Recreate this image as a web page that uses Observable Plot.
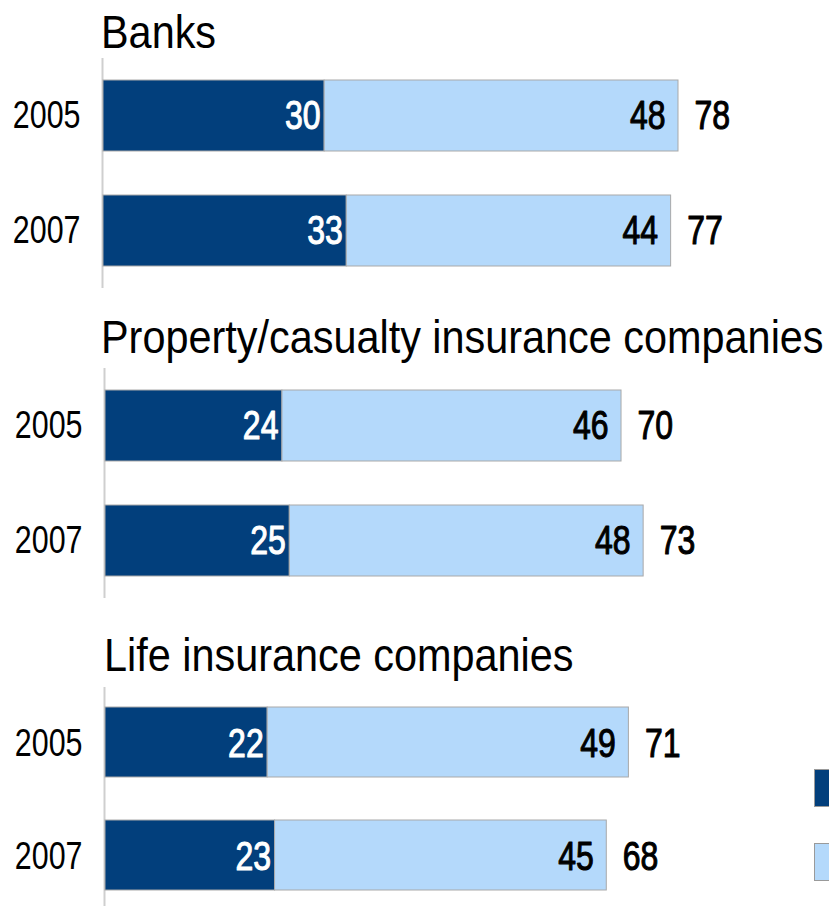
<!DOCTYPE html>
<html>
<head>
<meta charset="utf-8">
<script src="https://cdn.jsdelivr.net/npm/d3@7"></script>
<script src="https://cdn.jsdelivr.net/npm/@observablehq/plot@0.6"></script>
<style>
  html, body { margin: 0; padding: 0; background: #fff; overflow: hidden; }
  #root { position: relative; width: 829px; height: 906px; overflow: hidden;
    font-family: "Liberation Sans", Arial, sans-serif; }
  .title { position: absolute; font-size: 46px; line-height: 46px; color: #000; white-space: nowrap;
    transform: scaleX(0.9); transform-origin: 0 0; }
  .panel { position: absolute; left: 0; }
  .swatch { position: absolute; left: 814px; width: 30px; border: 1px solid #9a9a9a; box-sizing: border-box; }
</style>
</head>
<body>
<div id="root"></div>
<script>
// ---- data ----
const panelNames = ["Banks", "Property/casualty insurance companies", "Life insurance companies"];
const years = ["2005", "2007"];
const banksDark = [30, 33];
const banksLight = [48, 44];
const banksTotal = [78, 77];
const propertyDark = [24, 25];
const propertyLight = [46, 48];
const propertyTotal = [70, 73];
const lifeDark = [22, 23];
const lifeLight = [49, 45];
const lifeTotal = [71, 68];
const seriesNames = ["dark", "light"];

// ---- styles ----
const colors = {dark: "#023f7c", light: "#b4d9fb"};
const font = '"Liberation Sans", Arial, sans-serif';
const condenseFactor = 0.78;

const root = document.getElementById("root");

// narrow the glyphs of every svg text around its own anchor point (no condensed font is installed)
function condense(svg, s) {
  svg.querySelectorAll("text").forEach(el => {
    const t = el.getAttribute("transform") || "";
    const x = el.getAttribute("x");
    if (x != null && !isNaN(+x)) {
      el.removeAttribute("x");
      el.setAttribute("transform", `${t} translate(${x},0) scale(${s},1)`);
    } else {
      el.setAttribute("transform", `${t} scale(${s},1)`);
    }
  });
}

function makePanel({name, dark, light, total, top, left, titleTop, titleLeft, height, yRange, insetTop, insetBottom}) {
  const rows = years.flatMap((y, i) => [
    {year: y, series: seriesNames[0], value: dark[i]},
    {year: y, series: seriesNames[1], value: light[i]}
  ]);
  const totals = years.map((y, i) => ({year: y, total: total[i]}));

  const t = document.createElement("div");
  t.className = "title";
  t.style.top = titleTop + "px";
  t.style.left = titleLeft + "px";
  t.textContent = name;
  root.appendChild(t);

  const numStyle = {fontSize: 41, fontWeight: "normal", strokeWidth: 1.1};

  const chart = Plot.plot({
    width: 829,
    height,
    marginLeft: left,
    marginRight: 829 - left - 575,
    marginTop: 0,
    marginBottom: 0,
    style: {fontFamily: font, fontSize: "39px", color: "#000", background: "transparent"},
    x: {domain: [0, 78], axis: null},
    y: {domain: years, padding: 0, range: yRange, tickSize: 0, tickPadding: 23, label: null},
    color: {type: "identity"},
    marks: [
      Plot.ruleX([0], {stroke: "#cfcfcf", strokeWidth: 2, dx: -1}),
      Plot.barX(rows, {
        x: "value", y: "year",
        fill: d => colors[d.series],
        stroke: "#a9a9a9", strokeWidth: 1,
        insetTop, insetBottom
      }),
      Plot.text(rows, Plot.filter(d => d.series === "dark", Plot.stackX2({
        x: "value", y: "year", text: "value",
        textAnchor: "end", dx: -4, fill: "white", stroke: "white", ...numStyle
      }))),
      Plot.text(rows, Plot.filter(d => d.series === "light", Plot.stackX2({
        x: "value", y: "year", text: "value",
        textAnchor: "end", dx: -13, fill: "black", stroke: "black", ...numStyle
      }))),
      Plot.text(totals, {
        x: "total", y: "year", text: "total",
        textAnchor: "start", dx: 16, fill: "black", stroke: "black", ...numStyle
      })
    ]
  });
  condense(chart, condenseFactor);
  const wrap = document.createElement("div");
  wrap.className = "panel";
  wrap.style.top = top + "px";
  wrap.appendChild(chart);
  root.appendChild(wrap);
}

makePanel({name: panelNames[0], dark: banksDark, light: banksLight, total: banksTotal,
  top: 58, left: 103, titleTop: 9, titleLeft: 101, height: 230, yRange: [0, 230], insetTop: 22, insetBottom: 22});
makePanel({name: panelNames[1], dark: propertyDark, light: propertyLight, total: propertyTotal,
  top: 368, left: 105, titleTop: 314, titleLeft: 101, height: 230, yRange: [0, 230], insetTop: 22, insetBottom: 22});
makePanel({name: panelNames[2], dark: lifeDark, light: lifeLight, total: lifeTotal,
  top: 687, left: 105, titleTop: 632, titleLeft: 104, height: 219, yRange: [0, 226], insetTop: 20, insetBottom: 23});

// legend swatches (labels cut off at the right edge in the reference)
const s1 = document.createElement("div");
s1.className = "swatch"; s1.style.top = "769px"; s1.style.height = "38px"; s1.style.background = colors.dark;
root.appendChild(s1);
const s2 = document.createElement("div");
s2.className = "swatch"; s2.style.top = "843px"; s2.style.height = "38px"; s2.style.background = colors.light;
root.appendChild(s2);
</script>
</body>
</html>
